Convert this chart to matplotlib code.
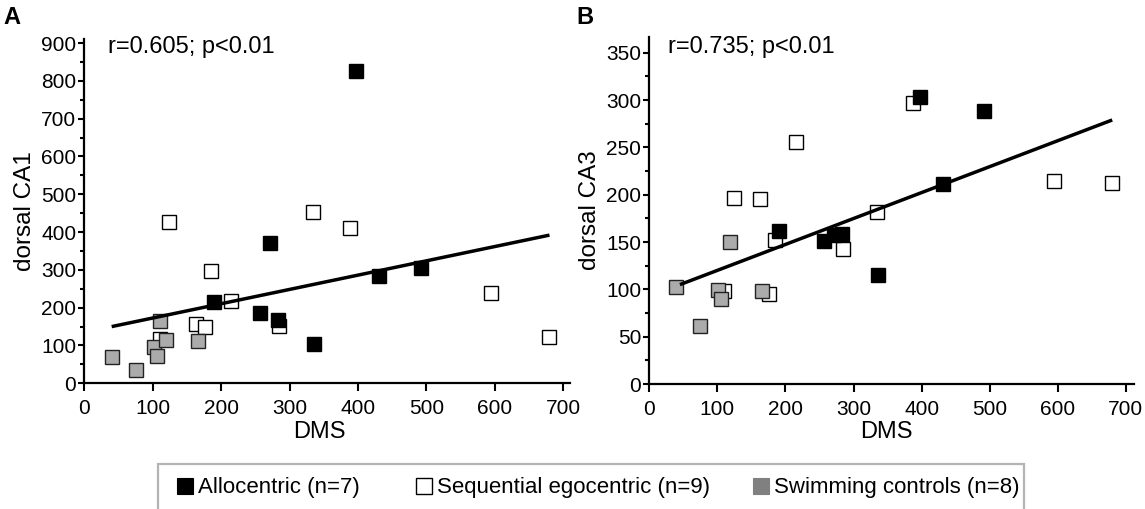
import matplotlib
matplotlib.use("Agg")
import matplotlib.pyplot as plt
from matplotlib.lines import Line2D
from matplotlib.patches import Rectangle
from matplotlib.ticker import MultipleLocator

plt.rcParams['font.family'] = ['Liberation Sans', 'DejaVu Sans']

# ---------------- data ----------------
# Allocentric (n=7)
allo_dms = [190, 257, 272, 283, 336, 397, 431, 492]
allo_ca1 = [215, 185, 370, 168, 103, 825, 283, 305]
allo_ca3 = [162, 151, 157, 159, 115, 303, 211, 288]

# Sequential egocentric (n=9)
seq_dms = [110, 124, 163, 176, 185, 215, 285, 334, 388, 595, 680]
seq_ca1 = [118, 428, 158, 149, 297, 217, 152, 453, 410, 238, 122]
seq_ca3 = [98, 197, 195, 95, 152, 256, 143, 182, 297, 215, 212]

# Swimming controls (n=8)
swim_dms_a = [41, 76, 102, 107, 110, 120, 166]
swim_ca1 = [69, 36, 97, 73, 164, 115, 113]
swim_dms_b = [39, 74, 101, 105, 118, 166]
swim_ca3 = [103, 61, 99, 90, 150, 98]

# regression lines (end points)
fit_dms_a = [40, 680]
fit_ca1 = [150, 392]
fit_dms_b = [45, 680]
fit_ca3 = [105, 279]

stats_a = "r=0.605; p<0.01"
stats_b = "r=0.735; p<0.01"
legend_labels = ["Allocentric (n=7)", "Sequential egocentric (n=9)", "Swimming controls (n=8)"]

W, H = 1145, 509
fig = plt.figure(figsize=(W / 100, H / 100), dpi=100)


def px_rect(x0, y_bottom, x1, y_top):
    return [x0 / W, (H - y_bottom) / H, (x1 - x0) / W, (y_bottom - y_top) / H]


axA = fig.add_axes(px_rect(84.3, 383.3, 570, 39.3))
axB = fig.add_axes(px_rect(649.3, 384, 1134, 36.7))

GRAY = '#ababab'
ms = 10.6
mew = 1.0


def draw(ax, sdms, sy, adms, ay, gdms, gy, fx, fy):
    ax.plot(sdms, sy, ls='none', marker='s', ms=ms, mfc='white', mec='black', mew=mew, zorder=3)
    ax.plot(adms, ay, ls='none', marker='s', ms=ms, mfc='black', mec='black', mew=mew, zorder=4)
    ax.plot(gdms, gy, ls='none', marker='s', ms=ms, mfc=GRAY, mec='#222222', mew=mew, zorder=5)
    ax.plot(fx, fy, color='black', lw=2.5, zorder=6, solid_capstyle='butt')
    for s in ['top', 'right']:
        ax.spines[s].set_visible(False)
    for s in ['left', 'bottom']:
        ax.spines[s].set_linewidth(1.6)
    ax.xaxis.set_major_locator(MultipleLocator(100))
    ax.tick_params(axis='x', which='major', direction='out', length=5.8, width=1.5,
                   labelsize=15, pad=5.5)
    ax.tick_params(axis='y', which='major', direction='out', length=4.3, width=1.5,
                   labelsize=15, pad=1.5)
    ax.tick_params(axis='y', which='minor', direction='out', length=2.6, width=1.5)
    ax.set_xlabel('DMS', fontsize=17)
    ax.xaxis.label.set_va('center')


draw(axA, seq_dms, seq_ca1, allo_dms, allo_ca1, swim_dms_a, swim_ca1, fit_dms_a, fit_ca1)
axA.set_xlim(0, 710)
axA.set_ylim(0, 910)
axA.yaxis.set_major_locator(MultipleLocator(100))
axA.yaxis.set_minor_locator(MultipleLocator(50))
axA.set_ylabel('dorsal CA1', fontsize=17.5)
axA.yaxis.label.set_va('center')
axA.yaxis.set_label_coords((25 - 84.3) / 485.7, 0.5)
axA.xaxis.set_label_coords((319 - 84.3) / 485.7, (383.3 - 432) / 344)

draw(axB, seq_dms, seq_ca3, allo_dms, allo_ca3, swim_dms_b, swim_ca3, fit_dms_b, fit_ca3)
axB.set_xlim(0, 712)
axB.set_ylim(0, 367)
axB.yaxis.set_major_locator(MultipleLocator(50))
axB.yaxis.set_minor_locator(MultipleLocator(25))
axB.set_ylabel('dorsal CA3', fontsize=17.5)
axB.yaxis.label.set_va('center')
axB.yaxis.set_label_coords((590 - 649.3) / 484.7, 0.5)
axB.xaxis.set_label_coords((886 - 649.3) / 484.7, (384 - 432) / 347.3)

# annotations and panel letters
fig.text(108 / W, 1 - 47 / H, stats_a, fontsize=17, va='center', ha='left')
fig.text(668 / W, 1 - 47 / H, stats_b, fontsize=17, va='center', ha='left')
fig.text(3 / W, 1 - 18 / H, 'A', fontsize=17, fontweight='bold', va='center', ha='left')
fig.text(576 / W, 1 - 18 / H, 'B', fontsize=17, fontweight='bold', va='center', ha='left')

# legend frame
fig.add_artist(Rectangle((158 / W, -0.05), (1024 - 158) / W, (H - 464) / H + 0.05,
                         transform=fig.transFigure, facecolor='white',
                         edgecolor='#b4b4b4', lw=1.6, zorder=0))

handles = [
    Line2D([], [], ls='none', marker='s', ms=11, mfc='black', mec='black', mew=0.8),
    Line2D([], [], ls='none', marker='s', ms=11, mfc='white', mec='black', mew=1.0),
    Line2D([], [], ls='none', marker='s', ms=11, mfc='#808080', mec='#808080', mew=0.8),
]
starts = [176, 415, 752]
for h, lab, x0 in zip(handles, legend_labels, starts):
    fig.legend([h], [lab], loc='center left', bbox_to_anchor=(x0 / W, 1 - 488 / H),
               frameon=False, fontsize=16, handlelength=0.8, handletextpad=0.2,
               borderpad=0, borderaxespad=0)

fig.savefig('out.png', dpi=100)
